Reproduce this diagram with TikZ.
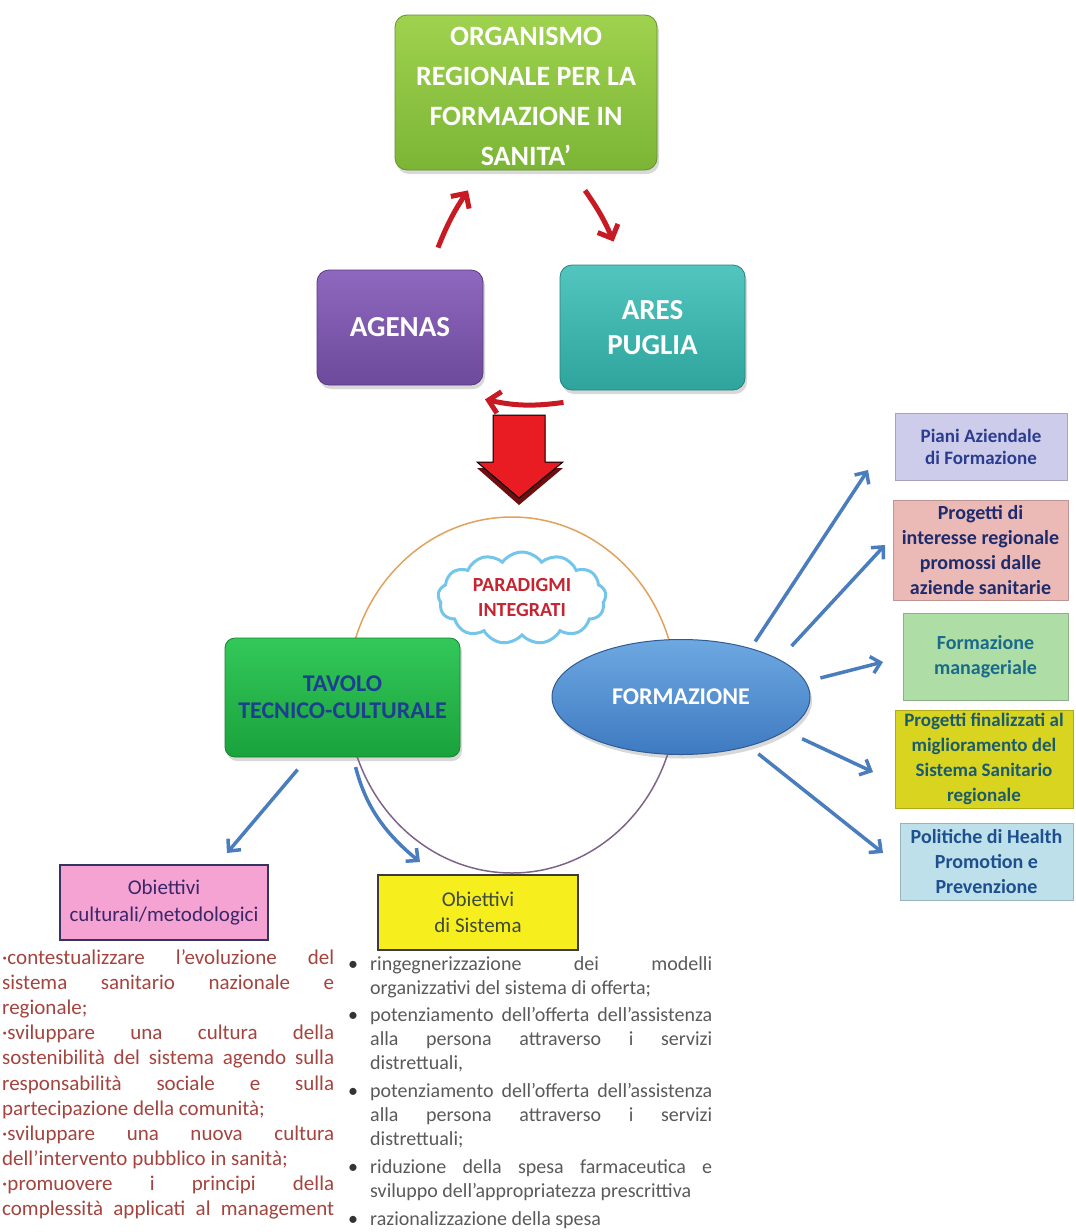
\documentclass[tikz,border=0pt]{standalone}
\usepackage{fontspec}
\setmainfont{Carlito}
\usetikzlibrary{arrows.meta,shapes.geometric,shapes.symbols,shadows,calc}
\definecolor{orgA}{HTML}{9FD24E}\definecolor{orgB}{HTML}{7CB536}
\definecolor{agA}{HTML}{8E68BE}\definecolor{agB}{HTML}{6D4A9C}
\definecolor{arA}{HTML}{52C6BE}\definecolor{arB}{HTML}{2EA49C}
\definecolor{tavA}{HTML}{33C85A}\definecolor{tavB}{HTML}{1AA23C}
\definecolor{tavT}{HTML}{1D3F8F}
\definecolor{forA}{HTML}{6EA8E2}\definecolor{forB}{HTML}{3E7AC1}
\definecolor{redA}{HTML}{C81A22}
\definecolor{bigred}{HTML}{E81C22}\definecolor{darkred}{HTML}{6E0E10}
\definecolor{bluA}{HTML}{4A7DBE}
\definecolor{cloudC}{HTML}{74C5EA}\definecolor{cloudT}{HTML}{C62430}
\definecolor{orangeC}{HTML}{E2A25C}\definecolor{purpC}{HTML}{7E6488}
\definecolor{pinkF}{HTML}{F5A3D3}\definecolor{pinkB}{HTML}{34345F}\definecolor{pinkT}{HTML}{3A2668}
\definecolor{yelF}{HTML}{F7EE1E}\definecolor{yelB}{HTML}{3C3C3C}\definecolor{yelT}{HTML}{3E4A3C}
\definecolor{leftT}{HTML}{A5443E}\definecolor{rightT}{HTML}{5A5A5A}
\definecolor{b1F}{HTML}{CDCDEB}\definecolor{b1T}{HTML}{2B3C8E}
\definecolor{b2F}{HTML}{ECBAB6}\definecolor{b2T}{HTML}{1E2B6C}
\definecolor{b3F}{HTML}{AEDDA6}\definecolor{b3T}{HTML}{1A6A8C}
\definecolor{b4F}{HTML}{D8D420}\definecolor{b4T}{HTML}{1B5B6E}
\definecolor{b5F}{HTML}{BEE0EA}\definecolor{b5T}{HTML}{1E4F8E}
\newcommand{\bul}{\makebox[0pt][r]{\textcolor{black!80}{•}\hspace{12pt}}}
\tikzset{
  topbox/.style={rounded corners=12pt, line width=0.8pt, align=center, text=white, inner sep=0pt,
    drop shadow={opacity=0.3,shadow xshift=2pt,shadow yshift=-4pt}},
  redarrow/.style={draw=redA, line width=5pt, -{Straight Barb[length=11pt,width=22pt]}},
  bluearrow/.style={draw=bluA, line width=3.5pt, -{Straight Barb[length=9pt,width=17pt]}},
  rbox/.style={draw=#1!80!black, line width=0.6pt, fill=#1, align=center, inner sep=0pt,
    font=\fontsize{20}{25}\selectfont\bfseries},
  lefttxt/.style={anchor=base west, inner sep=0pt, text=leftT, font=\fontsize{21}{26}\selectfont},
  righttxt/.style={anchor=base west, inner sep=0pt, text=rightT, font=\fontsize{20}{24}\selectfont},
}
\begin{document}
\begin{tikzpicture}[x=1pt,y=-1pt]
\fill[white] (0,0) rectangle (1076,1232);
\useasboundingbox (0,0) rectangle (1076,1232);

% ---- top cycle ----
\node[topbox, top color=orgA, bottom color=orgB, draw=orgB!80!black, minimum width=262, minimum height=155,
  font=\fontsize{28}{40}\selectfont\bfseries] (org) at (526,92.5) {\rule{0pt}{26pt}ORGANISMO\\REGIONALE PER LA\\FORMAZIONE IN\\SANITA’};
\node[topbox, top color=agA, bottom color=agB, draw=agB!80!black, minimum width=166, minimum height=115,
  font=\fontsize{29}{35}\selectfont\bfseries] (agenas) at (400,327.5) {AGENAS};
\node[topbox, top color=arA, bottom color=arB, draw=arB!80!black, minimum width=185, minimum height=125,
  font=\fontsize{29}{35}\selectfont\bfseries] (ares) at (652.5,327.5) {ARES\\PUGLIA};

\draw[redarrow] ($(agenas.north)+(38,-22)$) to[bend left=6] ($(org.south)+(-58,20)$);
\draw[redarrow] ($(org.south)+(59,20)$) to[bend left=6] ($(ares.north)+(-39,-23)$);
\draw[redarrow] ($(ares.south)+(-89,12)$) to[bend left=10] ($(agenas.south)+(85,14)$);

% ---- big red arrow ----
\fill[darkred] (493,421) -- (545,421) -- (545,468) -- (563,468) -- (519,505) -- (477,468) -- (493,468) -- cycle;
\filldraw[fill=bigred, draw=black, line width=1pt] (493,415) -- (545,415) -- (545,462) -- (563,462) -- (519,498) -- (477,462) -- (493,462) -- cycle;

% ---- circle ----
\draw[orangeC, line width=1.5pt] (347,695) arc[start angle=180, end angle=360, x radius=165, y radius=178];
\draw[purpC, line width=1.5pt] (677,695) arc[start angle=0, end angle=180, x radius=165, y radius=178];

\node[cloud, cloud puffs=13, cloud puff arc=110, aspect=2, draw=cloudC, line width=3pt, fill=white,
  minimum width=168, minimum height=92, inner sep=0pt, align=center, text=cloudT,
  font=\fontsize{20}{25}\selectfont\bfseries] (cloud) at (522,598) {PARADIGMI\\INTEGRATI};

\node[topbox, rounded corners=10pt, top color=tavA, bottom color=tavB, draw=tavB!80!black, minimum width=235, minimum height=119,
  text=tavT, font=\fontsize{24}{27}\selectfont\bfseries] (tav) at (342.5,697.5) {TAVOLO\\TECNICO-CULTURALE};
\node[ellipse, minimum width=258, minimum height=115, top color=forA, bottom color=forB, draw=forB!75!black,
  line width=1pt, inner sep=0pt, text=white, font=\fontsize{24}{28}\selectfont\bfseries,
  drop shadow={opacity=0.3,shadow xshift=2pt,shadow yshift=-4pt}] (form) at (681,697) {FORMAZIONE};

% ---- right boxes ----
\node[rbox=b1F, text=b1T, minimum width=172, minimum height=67, font=\fontsize{19}{22}\selectfont\bfseries] (b1) at (981,446.5) {Piani Aziendale\\di Formazione};
\node[rbox=b2F, text=b2T, minimum width=175, minimum height=100] (b2) at (980.5,550) {Progetti di\\interesse regionale\\promossi dalle\\aziende sanitarie};
\node[rbox=b3F, text=b3T, minimum width=165, minimum height=87] (b3) at (985.5,656.5) {Formazione\\manageriale};
\node[rbox=b4F, text=b4T, minimum width=178, minimum height=98, font=\fontsize{19}{25}\selectfont\bfseries] (b4) at (984,759) {Progetti finalizzati al\\miglioramento del\\Sistema Sanitario\\regionale};
\node[rbox=b5F, text=b5T, minimum width=173, minimum height=77] (b5) at (986.5,861.5) {Politiche di Health\\Promotion e\\Prevenzione};

\coordinate (t1) at (868,470);
\coordinate (t2) at (885,545);
\coordinate (t3) at (883,662);
\coordinate (t4) at (873,772);
\coordinate (t5) at (883,853);
\draw[bluearrow, shorten <=8pt] (form.35) -- (t1);
\draw[bluearrow, shorten <=18pt] (form.21) -- (t2);
\draw[bluearrow, shorten <=15pt] (form.7) -- (t3);
\draw[bluearrow, shorten <=18pt] (form.-18) -- (t4);
\draw[bluearrow, shorten <=12pt] (form.-36) -- (t5);

% ---- objective boxes ----
\node[draw=pinkB, line width=2pt, fill=pinkF, minimum width=208, minimum height=75, align=center, inner sep=0pt,
  text=pinkT, font=\fontsize{21}{27}\selectfont] (pink) at (164,902.5) {Obiettivi\\culturali/metodologici};
\node[draw=yelB, line width=2.5pt, fill=yelF, minimum width=200, minimum height=75, align=center, inner sep=0pt,
  text=yelT, font=\fontsize{21}{26}\selectfont] (yel) at (478,912.5) {Obiettivi\\di Sistema};

\coordinate (t6) at (227,853);
\coordinate (t7) at (420,862);
\draw[bluearrow, shorten <=16pt] (tav.240) -- (t6);
\draw[bluearrow, shorten <=10pt] (tav.280) to[bend right=18] (t7);

% ---- left text ----
\foreach \yb/\txt [count=\i] in {
 964/{\makebox[332pt][s]{·contestualizzare l’evoluzione del}},
 989/{\makebox[332pt][s]{sistema sanitario nazionale e}},
 1014/{regionale;},
 1039/{\makebox[332pt][s]{·sviluppare una cultura della}},
 1064/{\makebox[332pt][s]{sostenibilità del sistema agendo sulla}},
 1090/{\makebox[332pt][s]{responsabilità sociale e sulla}},
 1115/{partecipazione della comunità;},
 1140/{\makebox[332pt][s]{·sviluppare una nuova cultura}},
 1165/{dell’intervento pubblico in sanità;},
 1190/{\makebox[332pt][s]{·promuovere i principi della}},
 1215/{\makebox[332pt][s]{complessità applicati al management}}}
 {\node[lefttxt] (L\i) at (2,\yb) {\txt};}

% ---- right text ----
\foreach \yb/\txt [count=\i] in {
 970/{\bul\makebox[342pt][s]{ringegnerizzazione dei modelli}},
 994/{organizzativi del sistema di offerta;},
 1021/{\bul\makebox[342pt][s]{potenziamento dell’offerta dell’assistenza}},
 1045/{\makebox[342pt][s]{alla persona attraverso i servizi}},
 1069/{distrettuali,},
 1097/{\bul\makebox[342pt][s]{potenziamento dell’offerta dell’assistenza}},
 1121/{\makebox[342pt][s]{alla persona attraverso i servizi}},
 1145/{distrettuali;},
 1173/{\bul\makebox[342pt][s]{riduzione della spesa farmaceutica e}},
 1197/{sviluppo dell’appropriatezza prescrittiva},
 1225/{\bul razionalizzazione della spesa}}
 {\node[righttxt] (R\i) at (370,\yb) {\txt};}
\end{tikzpicture}
\end{document}
